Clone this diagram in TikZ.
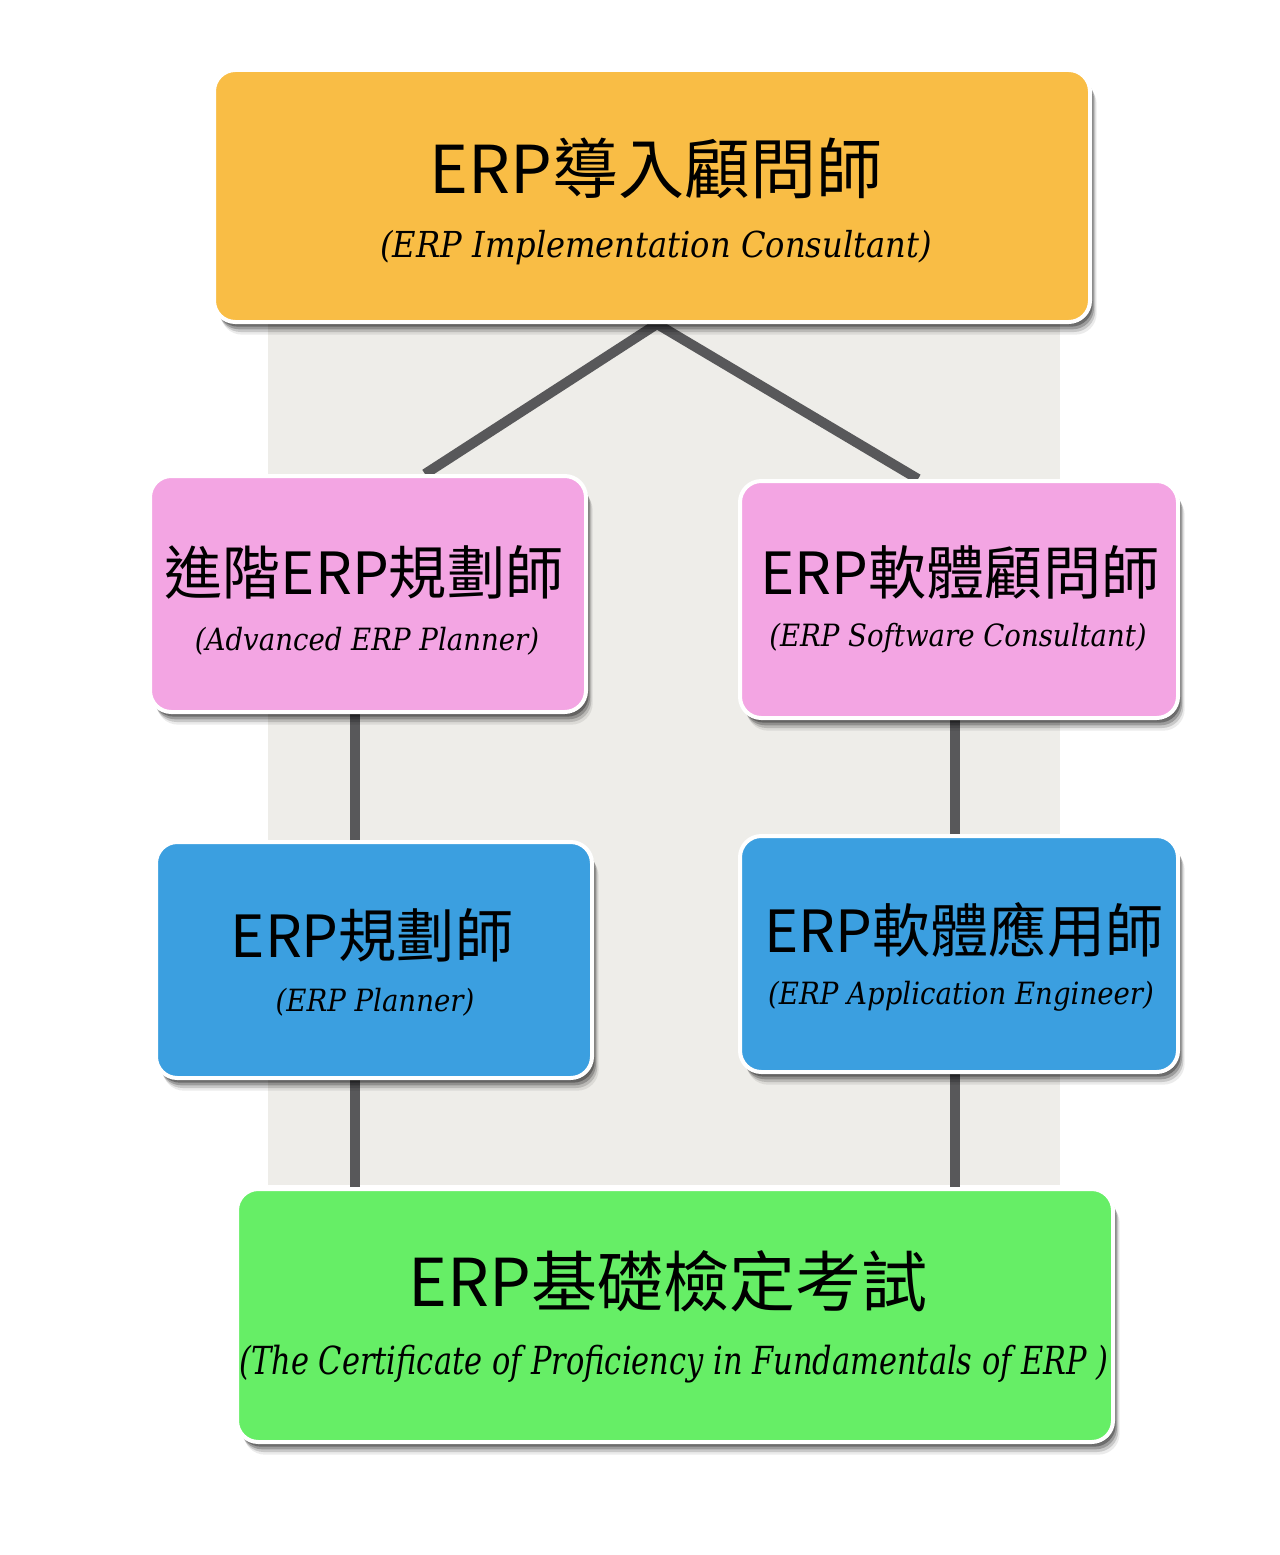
\documentclass[tikz,border=0pt]{standalone}
\usepackage{fontspec}
\newfontfamily\cjk{Noto Sans CJK TC}
\newfontfamily\engfont{DejaVu Serif Condensed}
\usetikzlibrary{shadows,backgrounds}

\tikzset{every picture/.style={line width=0.75pt}}
\tikzset{
	card/.style={draw=white, line width=3pt, rounded corners=16pt, inner sep=0pt,
		drop shadow={shadow xshift=1pt, shadow yshift=-1.5pt, opacity=0.35, fill=black},
		drop shadow={shadow xshift=2pt, shadow yshift=-3.5pt, opacity=0.3, fill=black},
		drop shadow={shadow xshift=3pt, shadow yshift=-5.5pt, opacity=0.22, fill=black},
		drop shadow={shadow xshift=4pt, shadow yshift=-7.5pt, opacity=0.15, fill=black},
		drop shadow={shadow xshift=5pt, shadow yshift=-9.5pt, opacity=0.08, fill=black}},
	link/.style={draw={rgb, 255:red, 88; green, 88; blue, 90}, line width=7.5pt},
	bigtitle/.style={font=\cjk\fontsize{49.5}{58}\selectfont},
	midtitle/.style={font=\cjk\fontsize{43.6}{50}\selectfont},
	bigsub/.style={font=\engfont\itshape\fontsize{26.8}{32}\selectfont},
	midsub/.style={font=\engfont\itshape\fontsize{23}{27}\selectfont},
	certsub/.style={font=\engfont\itshape\fontsize{29}{34}\selectfont}}

\begin{document}
\begin{tikzpicture}[x=0.75pt,y=0.75pt,yscale=-1,xscale=1]
	\useasboundingbox (0,0) rectangle (1280,1555);

	%Shape: Rounded Rectangle [impl]
	\node (impl) [card, fill={rgb, 255:red, 249; green, 189; blue, 69 }, minimum width=657pt, minimum height=189pt] at (652,196) {};
	%Shape: Rounded Rectangle [adv]
	\node (adv) [card, fill={rgb, 255:red, 243; green, 165; blue, 227 }, minimum width=327pt, minimum height=177pt] at (368,594) {};
	%Shape: Rounded Rectangle [soft]
	\node (soft) [card, fill={rgb, 255:red, 243; green, 165; blue, 227 }, minimum width=328.5pt, minimum height=177.75pt] at (959,599.5) {};
	%Shape: Rounded Rectangle [plan]
	\node (plan) [card, fill={rgb, 255:red, 59; green, 159; blue, 224 }, minimum width=327pt, minimum height=177pt] at (374,960) {};
	%Shape: Rounded Rectangle [appl]
	\node (appl) [card, fill={rgb, 255:red, 59; green, 159; blue, 224 }, minimum width=328.5pt, minimum height=177pt] at (959,954) {};
	%Shape: Rounded Rectangle [cert]
	\node (cert) [card, fill={rgb, 255:red, 102; green, 238; blue, 102 }, minimum width=657pt, minimum height=189.75pt] at (675,1315.5) {};

	\coordinate (apex) at (657,0);
	\coordinate (ax) at (425,0);
	\coordinate (bx) at (918,0);
	\coordinate (lx) at (355,0);
	\coordinate (rx) at (955,0);

	\begin{scope}[on background layer]
		%Shape: Rectangle [backdrop]
		\fill [fill={rgb, 255:red, 238; green, 237; blue, 233 }] (268,322) rectangle (1060,1185);
		%Connectors
		\draw [link] (adv.north -| ax) -- (impl.south -| apex) -- (soft.north -| bx);
		\draw [link] (adv.south -| lx) -- (plan.north -| lx);
		\draw [link] (plan.south -| lx) -- (cert.north -| lx);
		\draw [link] (soft.south -| rx) -- (appl.north -| rx);
		\draw [link] (appl.south -| rx) -- (cert.north -| rx);
	\end{scope}

	% Text Node
	\node (implzh) [bigtitle] at (656,168) {ERP導入顧問師};
	% Text Node
	\node (implen) [bigsub] at (656,248) {(ERP Implementation Consultant)};
	% Text Node
	\node (advzh) [midtitle] at (364,572) {進階ERP規劃師};
	% Text Node
	\node (adven) [midsub] at (367,641) {(Advanced ERP Planner)};
	% Text Node
	\node (softzh) [midtitle] at (960,572) {ERP軟體顧問師};
	% Text Node
	\node (soften) [midsub] at (958,638) {(ERP Software Consultant)};
	% Text Node
	\node (planzh) [midtitle] at (372,935) {ERP規劃師};
	% Text Node
	\node (planen) [midsub] at (375,1002) {(ERP Planner)};
	% Text Node
	\node (applzh) [midtitle] at (964,930) {ERP軟體應用師};
	% Text Node
	\node (applen) [midsub] at (961,996) {(ERP Application Engineer)};
	% Text Node
	\node (certzh) [bigtitle] at (668,1281) {ERP基礎檢定考試};
	% Text Node
	\node (certen) [certsub] at (674,1364) {\scalebox{0.875}[1]{(The Certificate of Proficiency in Fundamentals of ERP )}};

\end{tikzpicture}
\end{document}
